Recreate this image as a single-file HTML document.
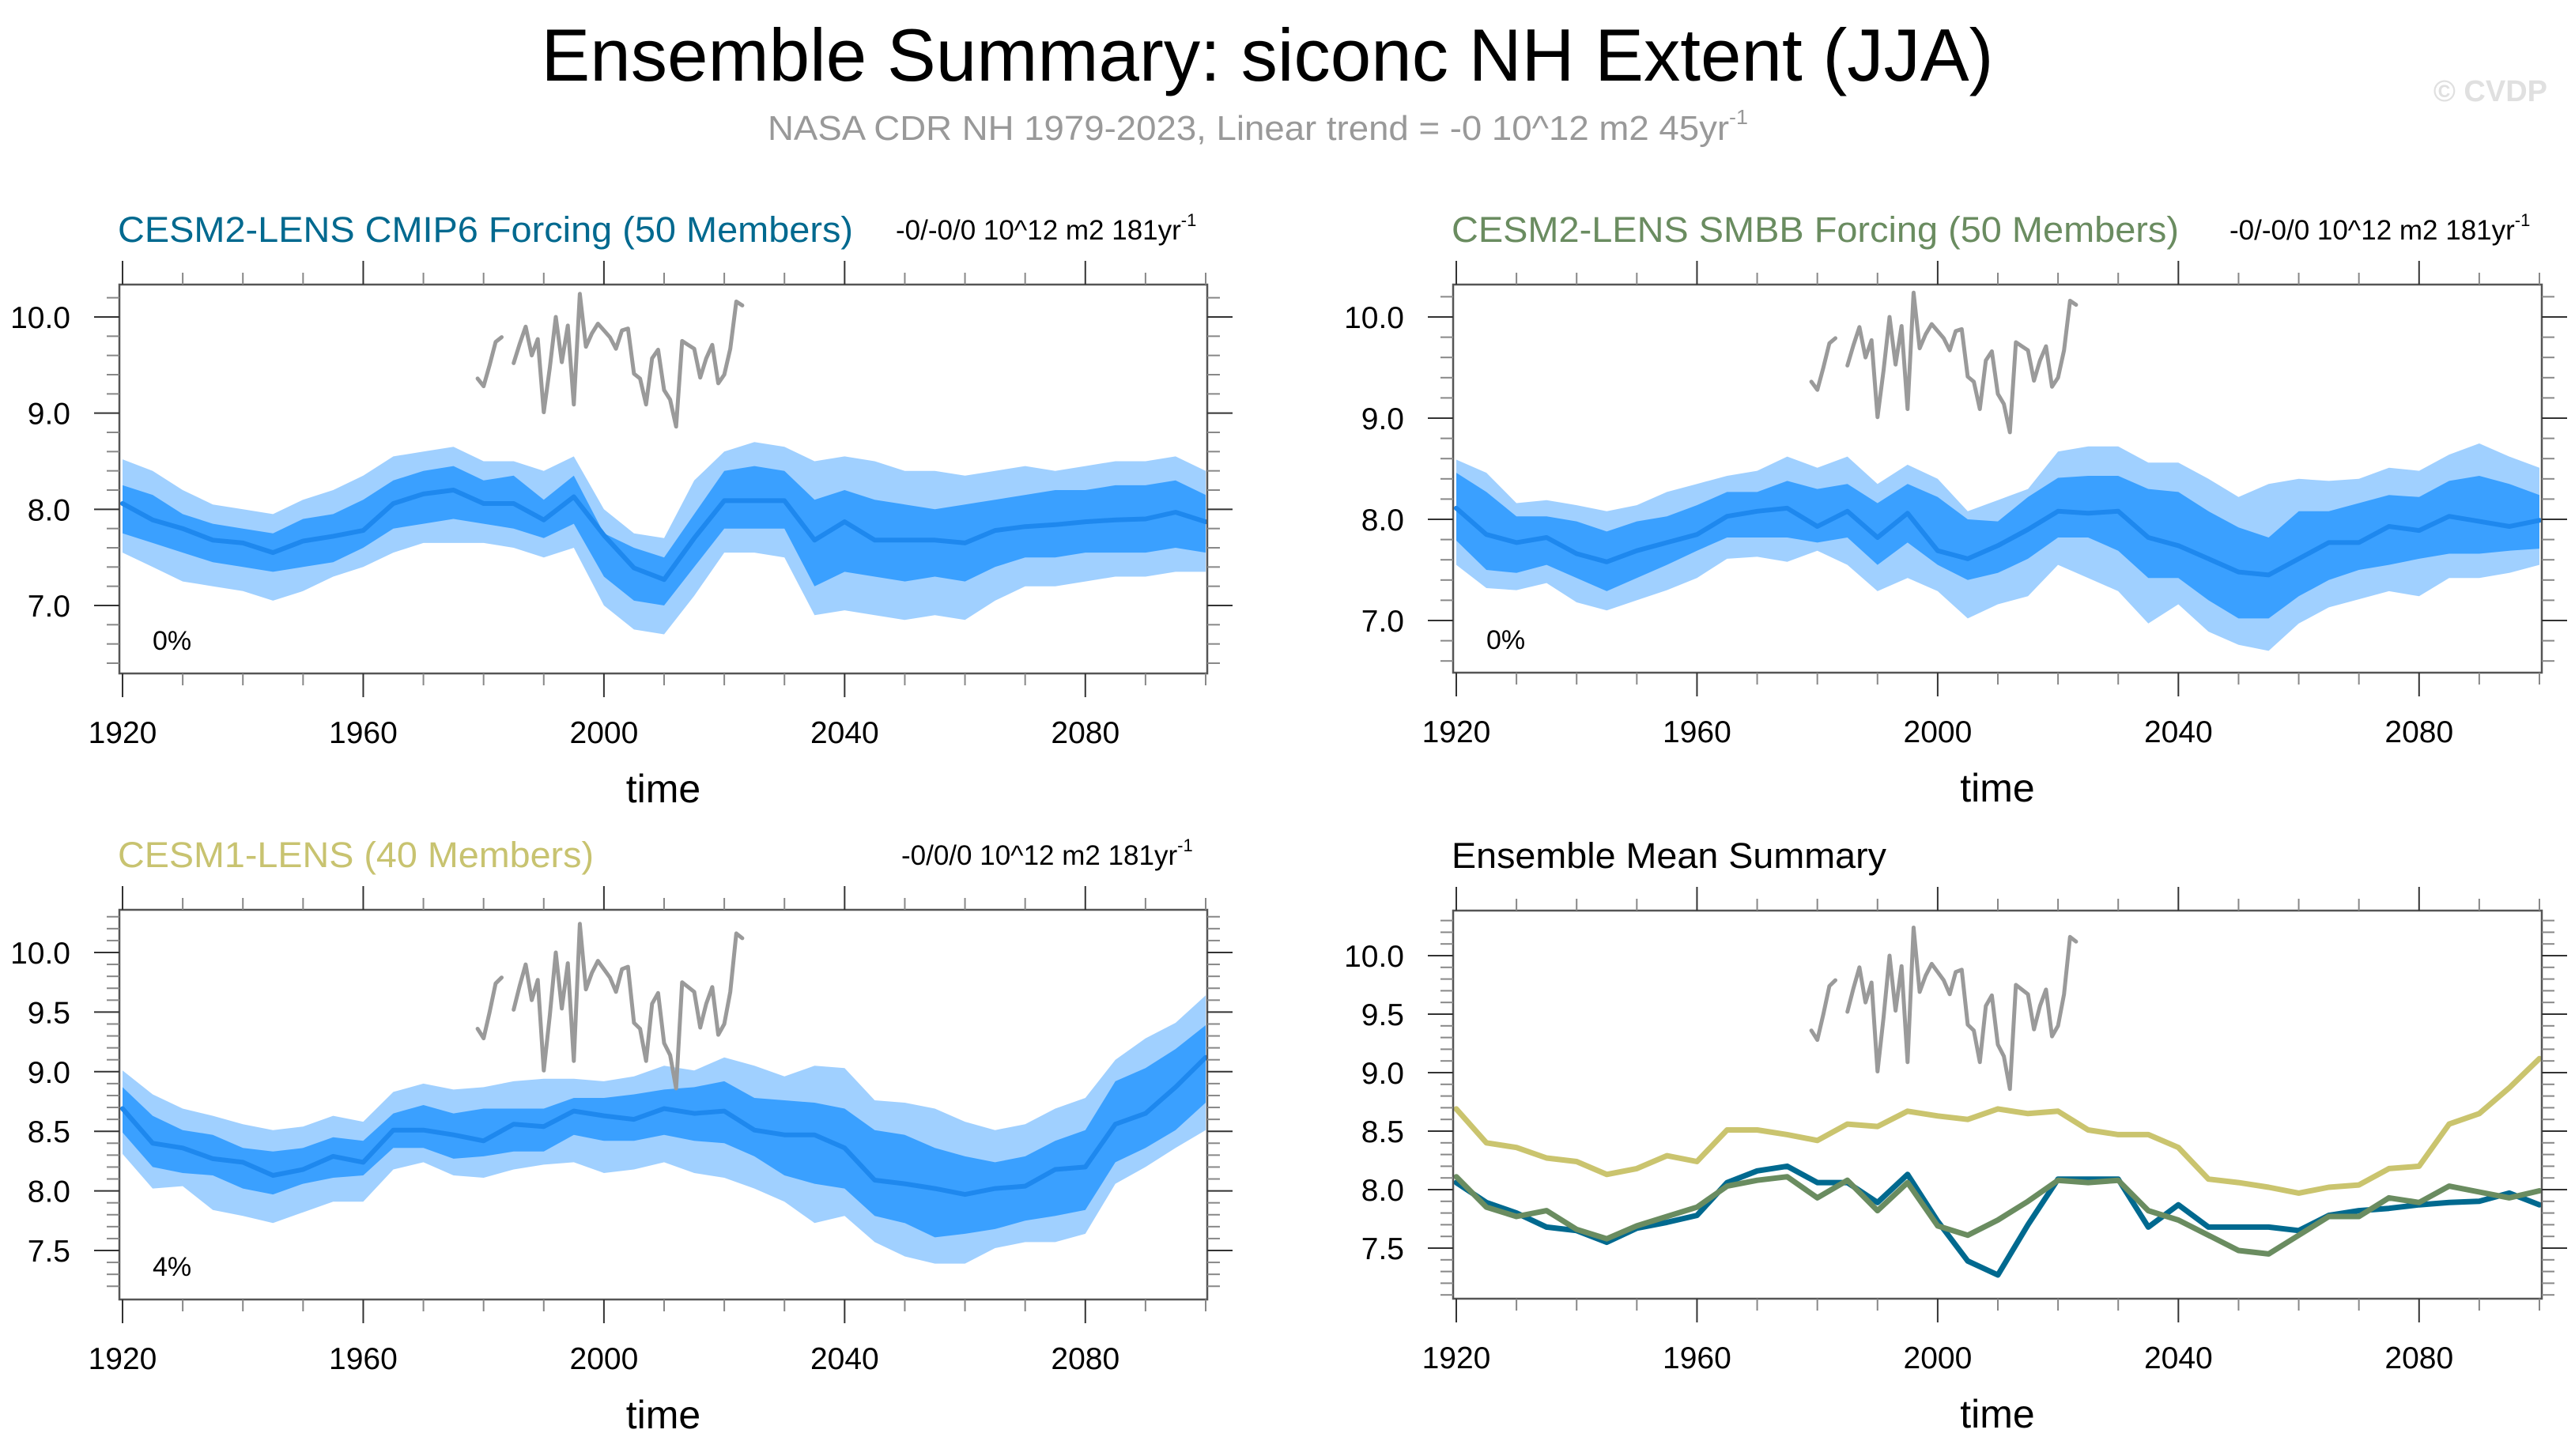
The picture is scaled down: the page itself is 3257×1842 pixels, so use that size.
<!DOCTYPE html>
<html><head><meta charset="utf-8"><style>
html,body{margin:0;padding:0;background:#fff;}
svg{display:block;font-family:"Liberation Sans",sans-serif;}
</style></head><body>
<svg id="fig" xmlns="http://www.w3.org/2000/svg" width="3257" height="1842" viewBox="0 0 3257 1842">
<text x="1603" y="102" font-size="94" text-anchor="middle" textLength="1837" lengthAdjust="spacingAndGlyphs">Ensemble Summary: siconc NH Extent (JJA)</text>
<text x="971" y="177" font-size="44" fill="#999" textLength="1240" lengthAdjust="spacingAndGlyphs">NASA CDR NH 1979-2023, Linear trend = -0 10^12 m2 45yr<tspan font-size="26" dy="-20">-1</tspan></text>
<text x="3222" y="128" font-size="38" fill="#e0e0e0" font-weight="bold" text-anchor="end">© CVDP</text>
<g id="plots"></g>
</svg>
<script>
const bandYears = [1920,1925,1930,1935,1940,1945,1950,1955,1960,1965,1970,1975,1980,1985,1990,1995,2000,2005,2010,2015,2020,2025,2030,2035,2040,2045,2050,2055,2060,2065,2070,2075,2080,2085,2090,2095,2100];
const cmip6Mean = [8.06,7.89,7.80,7.68,7.65,7.55,7.67,7.72,7.78,8.06,8.16,8.20,8.06,8.06,7.89,8.13,7.73,7.39,7.27,7.70,8.09,8.09,8.09,7.68,7.87,7.68,7.68,7.68,7.65,7.78,7.82,7.84,7.87,7.89,7.90,7.97,7.87];
const cmip6OuterHi = [8.52,8.4,8.2,8.05,8.0,7.95,8.1,8.2,8.35,8.55,8.6,8.65,8.5,8.5,8.4,8.55,8.0,7.75,7.7,8.3,8.6,8.7,8.65,8.5,8.55,8.5,8.4,8.4,8.35,8.4,8.45,8.4,8.45,8.5,8.5,8.55,8.4];
const cmip6OuterLo = [7.55,7.4,7.25,7.2,7.15,7.05,7.15,7.3,7.4,7.55,7.65,7.65,7.65,7.6,7.5,7.6,7.0,6.75,6.7,7.1,7.55,7.55,7.5,6.9,6.95,6.9,6.85,6.9,6.85,7.05,7.2,7.2,7.25,7.3,7.3,7.35,7.35];
const cmip6InnerHi = [8.25,8.15,7.95,7.85,7.8,7.75,7.9,7.95,8.1,8.3,8.4,8.45,8.3,8.35,8.1,8.35,7.75,7.6,7.5,7.95,8.4,8.45,8.4,8.1,8.2,8.1,8.05,8.0,8.05,8.1,8.15,8.2,8.2,8.25,8.25,8.3,8.15];
const cmip6InnerLo = [7.75,7.65,7.55,7.45,7.4,7.35,7.4,7.45,7.6,7.8,7.85,7.9,7.85,7.8,7.7,7.85,7.3,7.05,7.0,7.4,7.8,7.8,7.8,7.2,7.35,7.3,7.25,7.3,7.25,7.4,7.5,7.5,7.55,7.55,7.55,7.6,7.55];

const smbbMean = [8.11,7.85,7.77,7.82,7.66,7.58,7.69,7.77,7.85,8.03,8.08,8.11,7.93,8.08,7.82,8.06,7.69,7.61,7.74,7.90,8.08,8.06,8.08,7.82,7.74,7.61,7.48,7.45,7.61,7.77,7.77,7.93,7.89,8.03,7.98,7.93,7.99];
const smbbOuterHi = [8.59,8.46,8.16,8.19,8.14,8.08,8.14,8.27,8.35,8.43,8.48,8.62,8.51,8.62,8.35,8.54,8.4,8.08,8.19,8.3,8.67,8.72,8.72,8.56,8.56,8.4,8.22,8.35,8.4,8.38,8.4,8.51,8.48,8.64,8.75,8.62,8.51];
const smbbOuterLo = [7.55,7.32,7.3,7.37,7.18,7.1,7.2,7.3,7.42,7.61,7.63,7.58,7.69,7.55,7.29,7.42,7.29,7.02,7.16,7.24,7.55,7.42,7.29,6.97,7.16,6.89,6.76,6.7,6.97,7.13,7.21,7.29,7.24,7.42,7.42,7.47,7.55];
const smbbInnerHi = [8.46,8.27,8.03,8.03,7.98,7.88,7.98,8.03,8.14,8.27,8.27,8.38,8.3,8.35,8.16,8.35,8.22,8.0,7.98,8.22,8.41,8.43,8.43,8.3,8.27,8.08,7.92,7.82,8.08,8.08,8.16,8.24,8.22,8.38,8.43,8.35,8.24];
const smbbInnerLo = [7.79,7.5,7.47,7.55,7.42,7.29,7.42,7.55,7.69,7.82,7.82,7.82,7.77,7.82,7.55,7.77,7.55,7.4,7.47,7.61,7.82,7.82,7.69,7.42,7.42,7.2,7.02,7.02,7.24,7.4,7.5,7.55,7.61,7.66,7.66,7.69,7.71];

const cesm1Mean = [8.69,8.40,8.36,8.27,8.24,8.13,8.18,8.29,8.24,8.51,8.51,8.47,8.42,8.56,8.54,8.67,8.63,8.60,8.69,8.65,8.67,8.51,8.47,8.47,8.36,8.09,8.06,8.02,7.97,8.02,8.04,8.18,8.20,8.56,8.65,8.87,9.12];
const cesm1OuterHi = [9.01,8.81,8.69,8.63,8.56,8.51,8.54,8.63,8.58,8.83,8.9,8.85,8.87,8.92,8.94,8.94,8.92,8.96,9.05,9.01,9.12,9.05,8.96,9.05,9.03,8.76,8.74,8.69,8.58,8.51,8.56,8.69,8.78,9.1,9.28,9.41,9.64];
const cesm1OuterLo = [8.31,8.02,8.04,7.84,7.79,7.73,7.82,7.91,7.91,8.18,8.24,8.13,8.11,8.18,8.22,8.24,8.15,8.18,8.24,8.15,8.11,8.02,7.91,7.73,7.79,7.57,7.45,7.39,7.39,7.52,7.57,7.57,7.64,8.06,8.2,8.36,8.51];
const cesm1InnerHi = [8.87,8.63,8.51,8.47,8.36,8.33,8.36,8.45,8.42,8.65,8.72,8.65,8.69,8.69,8.69,8.78,8.78,8.81,8.85,8.87,8.92,8.78,8.76,8.74,8.69,8.51,8.47,8.36,8.29,8.24,8.29,8.42,8.51,8.92,9.03,9.19,9.39];
const cesm1InnerLo = [8.49,8.2,8.15,8.13,8.02,7.97,8.06,8.11,8.13,8.36,8.36,8.27,8.29,8.33,8.33,8.47,8.42,8.42,8.47,8.42,8.4,8.29,8.13,8.06,8.02,7.79,7.73,7.61,7.64,7.68,7.75,7.79,7.84,8.24,8.36,8.51,8.74];

const obsYears = [1979,1980,1981,1982,1983,1984,1985,1986,1987,1988,1989,1990,1991,1992,1993,1994,1995,1996,1997,1998,1999,2000,2001,2002,2003,2004,2005,2006,2007,2008,2009,2010,2011,2012,2013,2014,2015,2016,2017,2018,2019,2020,2021,2022,2023];
const obsValues = [9.36,9.28,9.5,9.74,9.79,null,9.52,9.72,9.9,9.6,9.77,9.01,9.47,10.0,9.53,9.91,9.09,10.24,9.69,9.83,9.93,9.86,9.79,9.67,9.86,9.88,9.41,9.36,9.09,9.57,9.66,9.24,9.14,8.86,9.75,9.71,9.67,9.37,9.57,9.71,9.31,9.40,9.67,10.16,10.12];

const xTickLabels = ["1920","1960","2000","2040","2080"];
const yTicksA = ["7.0","8.0","9.0","10.0"];
const yTicksB = ["7.5","8.0","8.5","9.0","9.5","10.0"];

const NS = "http://www.w3.org/2000/svg";
const root = document.getElementById('plots');
function mk(tag, attrs, parent){const e=document.createElementNS(NS,tag);for(const k in attrs)e.setAttribute(k,attrs[k]);(parent||root).appendChild(e);return e;}

function panel(cfg){
  const g = mk('g',{});
  
  
  const L=cfg.x0,R=cfg.x1,T=cfg.y0,B=cfg.y1;
  const xs = yr => cfg.xa + (yr-1920)*(cfg.xb-cfg.xa)/180;
  const ys = v => cfg.ya + (v-cfg.va)*(cfg.yb-cfg.ya)/(cfg.vb-cfg.va);
  const clip = 'clip-'+cfg.name;
  const cp = mk('clipPath',{id:clip},g); mk('rect',{x:L,y:T,width:R-L,height:B-T},cp);
  const data = mk('g',{'clip-path':'url(#'+clip+')'},g);
  function band(hi,lo,fill,nm){
    let d='M';
    bandYears.forEach((y,i)=>{d+=xs(y).toFixed(1)+','+ys(hi[i]).toFixed(1)+' L';});
    for(let i=bandYears.length-1;i>=0;i--){d+=xs(bandYears[i]).toFixed(1)+','+ys(lo[i]).toFixed(1)+(i?' L':' Z');}
    const p=mk('path',{d:d,fill:fill},data);
    
    
  }
  function line(years,vals,color,w,nm){
    let d='',pen=false;
    years.forEach((y,i)=>{const v=vals[i];if(v===null){pen=false;return;}d+=(pen?'L':'M')+xs(y).toFixed(1)+','+ys(v).toFixed(1)+' ';pen=true;});
    const p=mk('path',{d:d,fill:'none',stroke:color,'stroke-width':w,'stroke-linejoin':'round','stroke-linecap':'round'},data);
    
    
  }
  if(cfg.bands){
    const b=cfg.bands;
    band(b.oh,b.ol,'#a0d0ff','outer-spread-band');
    band(b.ih,b.il,'#3aa0ff','inner-spread-band');
    line(bandYears,b.m,'#1e88ee',6,'ensemble-mean-line');
  }
  line(obsYears,obsValues,'#9a9a9a',5,'observations-line');
  if(cfg.means){cfg.means.forEach(m=>line(bandYears,m.v,m.c,7,m.n));}
  const box=mk('rect',{x:L,y:T,width:R-L,height:B-T,fill:'none',stroke:'#555','stroke-width':2.5},g);
  
  
  for(let yr=1920;yr<=2100;yr+=10){
    const x=xs(yr),maj=(yr-1920)%40===0,len=maj?30:15;
    mk('line',{x1:x,x2:x,y1:B,y2:B+len,stroke:maj?'#333':'#888','stroke-width':2},g);
    mk('line',{x1:x,x2:x,y1:T,y2:T-len,stroke:maj?'#333':'#888','stroke-width':2},g);
  }
  xTickLabels.forEach(lbl=>{
    const t=mk('text',{x:xs(+lbl),y:B+88,'font-size':39,'text-anchor':'middle'},g);t.textContent=lbl;
    
    
  });
  const step=cfg.minor, lo=Math.ceil(cfg.vmin/step-1e-6), hi=Math.floor(cfg.vmax/step+1e-6);
  for(let k=lo;k<=hi;k++){
    const v=k*step, y=ys(v), maj=Math.abs(v/cfg.major-Math.round(v/cfg.major))<1e-6, len=maj?32:16;
    mk('line',{x1:L-len,x2:L,y1:y,y2:y,stroke:maj?'#333':'#888','stroke-width':2},g);
    mk('line',{x1:R,x2:R+len,y1:y,y2:y,stroke:maj?'#333':'#888','stroke-width':2},g);
  }
  cfg.yLabels.forEach(lbl=>{
    const t=mk('text',{x:L-62,y:ys(+lbl)+14,'font-size':39,'text-anchor':'end'},g);t.textContent=lbl;
    
    
  });
  const xt=mk('text',{x:(L+R)/2,y:B+163,'font-size':50,'text-anchor':'middle'},g);xt.textContent='time';
  
  
  const tt=mk('text',{x:L-2,y:T-54,'font-size':45,fill:cfg.tcolor,textLength:cfg.tlen,lengthAdjust:'spacingAndGlyphs'},g);tt.textContent=cfg.title;
  
  
  if(cfg.trend){
    const tr=mk('text',{x:cfg.trendX,y:T-57,'font-size':35},g);
    tr.textContent=cfg.trend;
    const sp=mk('tspan',{'font-size':22,dy:-17},tr);sp.textContent='-1';
    
    
  }
  if(cfg.pct){
    const pt=mk('text',{x:L+42,y:B-30,'font-size':34},g);pt.textContent=cfg.pct;
    
    
  }
}

panel({name:'panel-cmip6',x0:151,x1:1527,y0:360,y1:852,xa:155,xb:1525,ya:401,va:10,yb:766,vb:7,vmin:6.3,vmax:10.33,minor:0.2,major:1,yLabels:yTicksA,
  bands:{m:cmip6Mean,oh:cmip6OuterHi,ol:cmip6OuterLo,ih:cmip6InnerHi,il:cmip6InnerLo},
  title:'CESM2-LENS CMIP6 Forcing (50 Members)',tcolor:'#00698f',tlen:930,trend:'-0/-0/0 10^12 m2 181yr',trendX:1133,pct:'0%'});
panel({name:'panel-smbb',x0:1838,x1:3215,y0:360,y1:851,xa:1842,xb:3212,ya:401,va:10,yb:785,vb:7,vmin:6.45,vmax:10.3,minor:0.2,major:1,yLabels:yTicksA,
  bands:{m:smbbMean,oh:smbbOuterHi,ol:smbbOuterLo,ih:smbbInnerHi,il:smbbInnerLo},
  title:'CESM2-LENS SMBB Forcing (50 Members)',tcolor:'#6a8c60',tlen:920,trend:'-0/-0/0 10^12 m2 181yr',trendX:2820,pct:'0%'});
panel({name:'panel-cesm1',x0:151,x1:1527,y0:1151,y1:1644,xa:155,xb:1525,ya:1205,va:10,yb:1582,vb:7.5,vmin:7.15,vmax:10.35,minor:0.1,major:0.5,yLabels:yTicksB,
  bands:{m:cesm1Mean,oh:cesm1OuterHi,ol:cesm1OuterLo,ih:cesm1InnerHi,il:cesm1InnerLo},
  title:'CESM1-LENS (40 Members)',tcolor:'#c8c370',tlen:602,trend:'-0/0/0 10^12 m2 181yr',trendX:1140,pct:'4%'});
panel({name:'panel-ensemble-mean',x0:1838,x1:3215,y0:1152,y1:1643,xa:1842,xb:3212,ya:1209,va:10,yb:1579,vb:7.5,vmin:7.1,vmax:10.38,minor:0.1,major:0.5,yLabels:yTicksB,
  means:[{v:cesm1Mean,c:'#cac46e',n:'cesm1-mean-line'},{v:cmip6Mean,c:'#00698f',n:'cmip6-mean-line'},{v:smbbMean,c:'#6a8c60',n:'smbb-mean-line'}],
  title:'Ensemble Mean Summary',tcolor:'#000',tlen:550});
</script>
</body></html>
